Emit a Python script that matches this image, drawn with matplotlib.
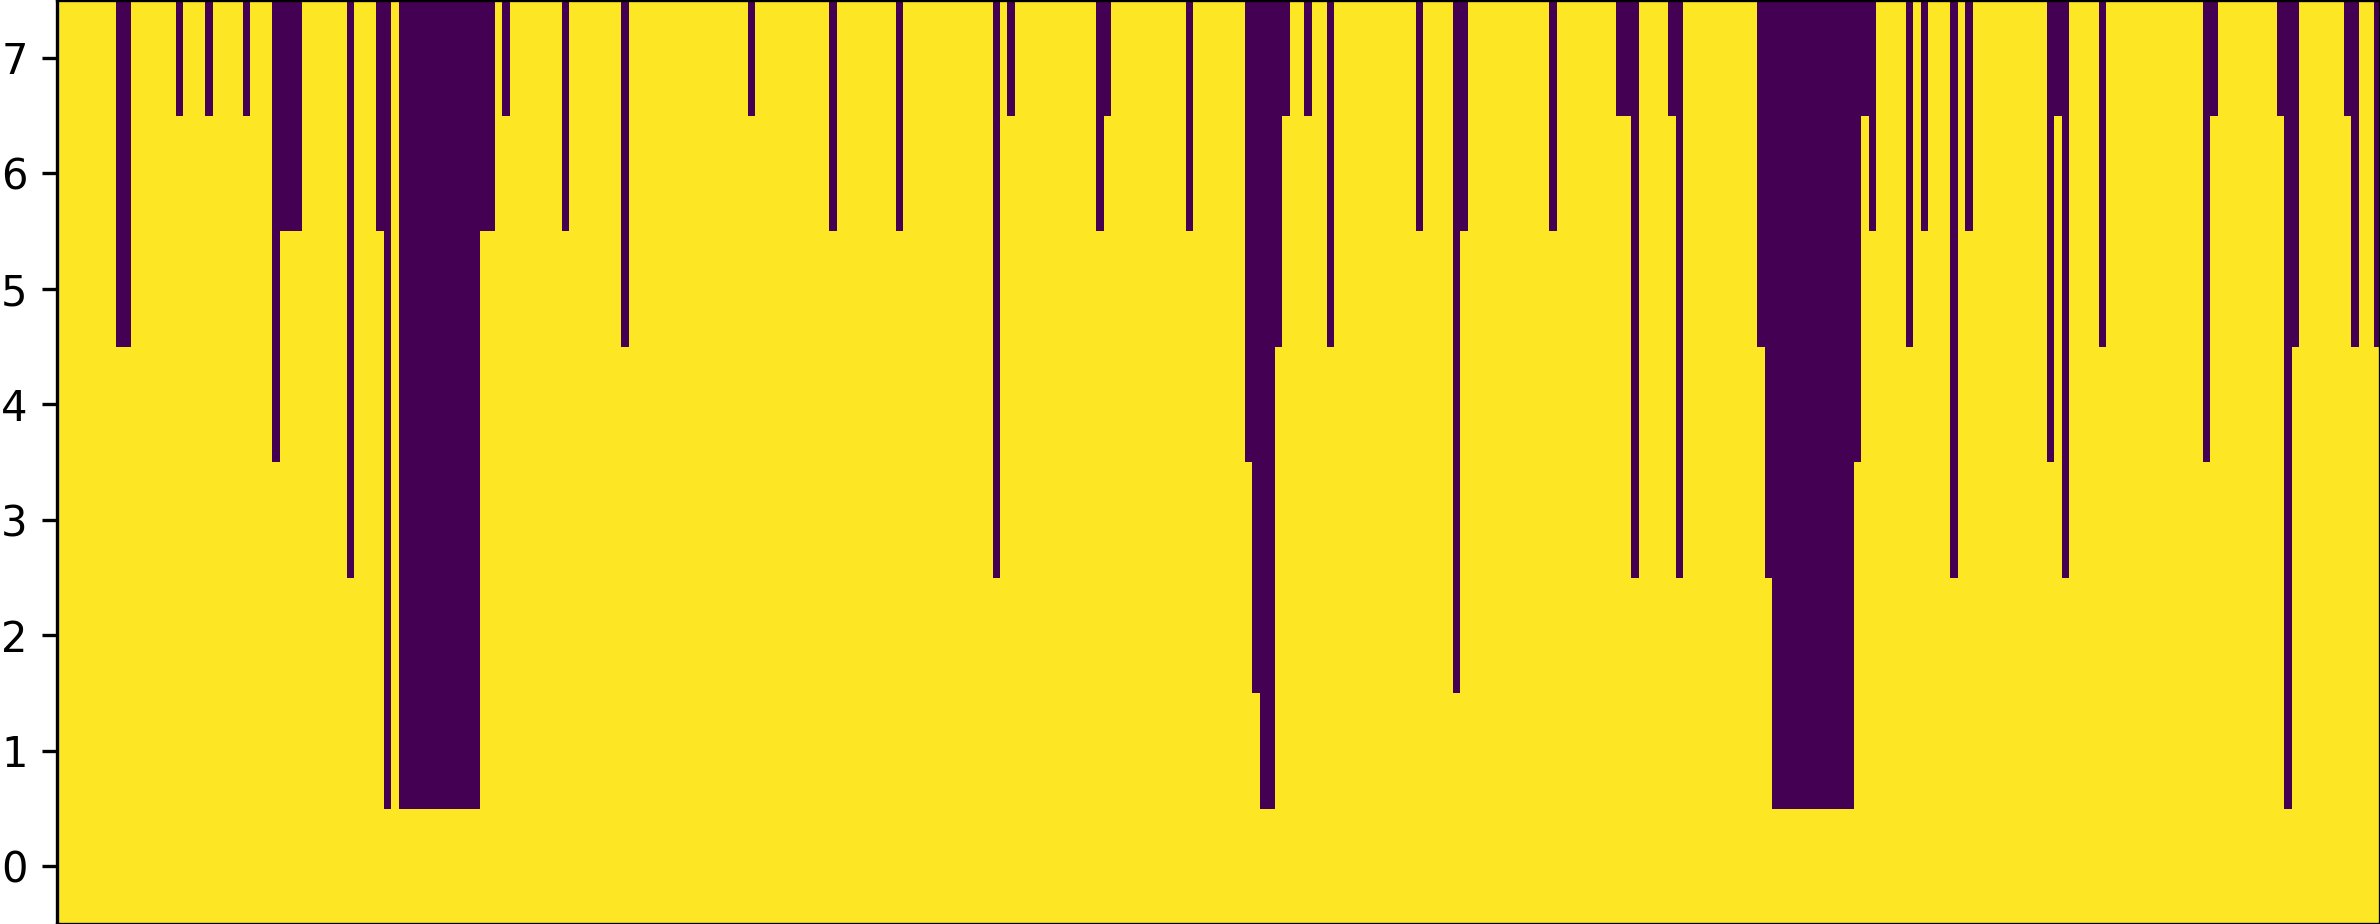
import matplotlib
matplotlib.use('Agg')
import matplotlib.pyplot as plt
import numpy as np

# Grid size: 8 rows (y = 0..7), 313 columns
n_rows = 8
n_cols = 313

# Columns that have a dark run from the top, and how many rows deep it goes
dark_cols = [8, 9, 16, 20, 25, 29, 30, 31, 32, 39, 43, 44,
             46, 47, 48, 49, 50, 51, 52, 53, 54, 55, 56, 57, 58,
             60, 68, 76, 93, 104, 113, 126, 128, 140, 141, 152,
             160, 161, 162, 163, 164, 165, 168, 171, 183, 188, 189, 201,
             210, 211, 212, 217, 218,
             229, 230, 231, 232, 233, 234, 235, 236, 237, 238, 239, 240, 241,
             242, 243, 244, 249, 251, 255, 257, 268, 269, 270, 275,
             289, 290, 299, 300, 301, 308, 309, 312]
dark_depth = [3, 3, 1, 1, 1, 4, 2, 2, 2, 5, 2, 7,
              7, 7, 7, 7, 7, 7, 7, 7, 7, 7, 7, 2, 2,
              1, 2, 3, 1, 2, 2, 5, 1, 2, 1, 2,
              4, 6, 7, 7, 3, 1, 1, 3, 2, 6, 2, 2,
              1, 1, 5, 1, 5,
              3, 5, 7, 7, 7, 7, 7, 7, 7, 7, 7, 7, 7,
              4, 1, 2, 3, 2, 5, 2, 4, 1, 5, 3,
              4, 1, 1, 7, 3, 1, 3, 3]

grid = np.ones((n_rows, n_cols))
for c, d in zip(dark_cols, dark_depth):
    grid[n_rows - d:, c] = 0

plt.rcParams.update({
    'font.size': 10,
    'ytick.labelsize': 10,
})

fig = plt.figure(figsize=(2380 / 300, 924 / 300), dpi=300)
ax = fig.add_axes([56.7 / 2380, 0, 1 - 56.7 / 2380, 1])
ax.imshow(grid, origin='lower', aspect='auto', cmap='viridis',
          interpolation='nearest')
ax.set_xticks([])
ax.set_yticks(range(n_rows))

fig.savefig('out.png', dpi=300)
plt.close(fig)
